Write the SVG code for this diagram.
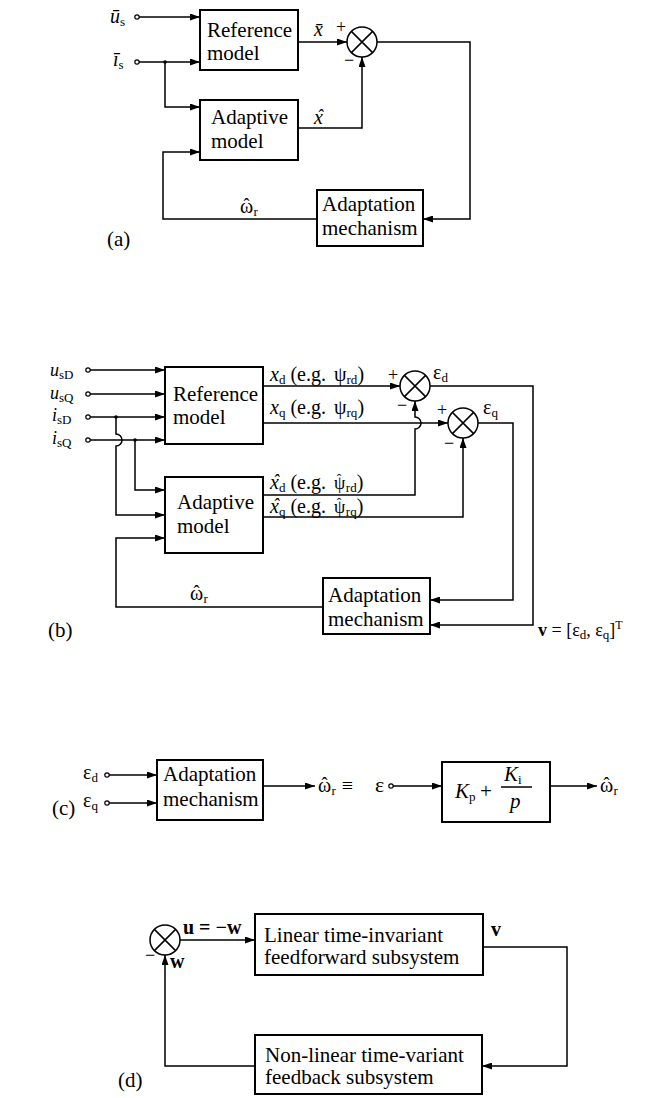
<svg xmlns="http://www.w3.org/2000/svg" width="654" height="1098" viewBox="0 0 654 1098">
<style>
.box{fill:none;stroke:#000;stroke-width:2}
.ln{fill:none;stroke:#000;stroke-width:1.5}
.arr{marker-end:url(#ah)}
.dot{fill:#fff;stroke:#000;stroke-width:1.2}
.jn{fill:#000}
text{font-family:"Liberation Serif","Times New Roman",serif;fill:#000}
.t{font-size:21px}
.l{font-size:18px}
.m{font-size:20px}
.s{font-size:13px}
.hat{font-size:18px}
.hs{font-size:14px}
.g{font-size:18px}
.i{font-style:italic}
.n{font-style:normal}
.b{font-weight:bold}
</style>
<defs>
<marker id="ah" markerUnits="userSpaceOnUse" markerWidth="10" markerHeight="7" refX="10" refY="3.5" orient="auto">
<path d="M0,0 L10,3.5 L0,7 z" fill="#000"/>
</marker>
</defs>
<rect width="654" height="1098" fill="#fff"/>

<!-- ===== (a) ===== -->
<g id="a-ref"><rect class="box" x="200" y="10" width="98" height="60"/><text class="t" x="207" y="37">Reference</text><text class="t" x="207" y="60">model</text></g>
<g id="a-adp"><rect class="box" x="200" y="100" width="98" height="60"/><text class="t" x="211" y="124">Adaptive</text><text class="t" x="211" y="148">model</text></g>
<g id="a-mech"><rect class="box" x="317" y="190" width="106" height="56"/><text class="t" x="322" y="211">Adaptation</text><text class="t" x="322" y="235">mechanism</text></g>
<g id="a-sum"><circle class="ln" cx="362" cy="42" r="15"/><path class="ln" d="M351.4,31.4 L372.6,52.6 M372.6,31.4 L351.4,52.6"/></g>
<g id="a-conn">
<circle class="dot" cx="137" cy="17" r="2.2"/><line class="ln arr" x1="139" y1="17" x2="200" y2="17"/>
<circle class="dot" cx="137" cy="62" r="2.2"/><line class="ln arr" x1="139" y1="62" x2="200" y2="62"/>
<circle class="jn" cx="165" cy="62" r="1.8"/><path class="ln arr" d="M165,62 V107 H200"/>
<line class="ln arr" x1="298" y1="42" x2="347" y2="42"/>
<path class="ln arr" d="M298,128 H362 V57"/>
<path class="ln arr" d="M377,42 H470 V219 H423"/>
<path class="ln arr" d="M317,219 H163 V152 H200"/>
</g>
<g id="a-labels">
<text class="m" x="110" y="23"><tspan class="i">ū</tspan><tspan class="s" dy="3">s</tspan></text>
<text class="m" x="113" y="66"><tspan class="i">ī</tspan><tspan class="s" dy="3">s</tspan></text>
<text class="m i" x="314" y="36">x̄</text>
<text class="l" x="336" y="33">+</text>
<text class="l" x="344" y="66">−</text>
<text class="m i" x="314" y="124">x<tspan class="hat" dx="-6" dy="-2">ˆ</tspan></text>
<text class="m" x="240" y="213">ω<tspan class="hat" dx="-9.7" dy="-2">ˆ</tspan><tspan class="s" dx="4" dy="5">r</tspan></text>
<text class="t" x="107" y="246">(a)</text>
</g>

<!-- ===== (b) ===== -->
<g id="b-ref"><rect class="box" x="165" y="367" width="98" height="77"/><text class="t" x="173" y="401">Reference</text><text class="t" x="173" y="424">model</text></g>
<g id="b-adp"><rect class="box" x="165" y="477" width="98" height="76"/><text class="t" x="177" y="509">Adaptive</text><text class="t" x="177" y="533">model</text></g>
<g id="b-mech"><rect class="box" x="323" y="578" width="107" height="56"/><text class="t" x="328" y="602">Adaptation</text><text class="t" x="328" y="626">mechanism</text></g>
<g id="b-sum1"><circle class="ln" cx="415" cy="386" r="15"/><path class="ln" d="M404.4,375.4 L425.6,396.6 M425.6,375.4 L404.4,396.6"/></g>
<g id="b-sum2"><circle class="ln" cx="463" cy="423" r="15"/><path class="ln" d="M452.4,412.4 L473.6,433.6 M473.6,412.4 L452.4,433.6"/></g>
<g id="b-conn">
<circle class="dot" cx="88" cy="370" r="2.2"/><line class="ln arr" x1="90" y1="370" x2="165" y2="370"/>
<circle class="dot" cx="88" cy="394" r="2.2"/><line class="ln arr" x1="90" y1="394" x2="165" y2="394"/>
<circle class="dot" cx="88" cy="417" r="2.2"/><line class="ln arr" x1="90" y1="417" x2="165" y2="417"/>
<circle class="dot" cx="88" cy="440" r="2.2"/><line class="ln arr" x1="90" y1="440" x2="165" y2="440"/>
<circle class="jn" cx="116" cy="417" r="1.8"/><path class="ln arr" d="M116,417 V434 A6,6 0 0 1 116,446 V515 H165"/>
<circle class="jn" cx="135" cy="440" r="1.8"/><path class="ln arr" d="M135,440 V490 H165"/>
<path class="ln arr" d="M323,607 H116 V538 H165"/>
<line class="ln arr" x1="263" y1="386" x2="400" y2="386"/>
<line class="ln arr" x1="263" y1="423" x2="448" y2="423"/>
<path class="ln arr" d="M263,495 H415 V429 A6,6 0 0 0 415,417 V401"/>
<path class="ln arr" d="M263,517 H463 V438"/>
<path class="ln arr" d="M430,386 H533 V625 H430"/>
<path class="ln arr" d="M478,423 H513 V600 H430"/>
</g>
<g id="b-labels">
<text class="l" x="50" y="376"><tspan class="i">u</tspan><tspan class="s" dy="3">sD</tspan></text>
<text class="l" x="50" y="399"><tspan class="i">u</tspan><tspan class="s" dy="3">sQ</tspan></text>
<text class="l" x="52" y="421"><tspan class="i">i</tspan><tspan class="s" dy="3">sD</tspan></text>
<text class="l" x="52" y="444"><tspan class="i">i</tspan><tspan class="s" dy="3">sQ</tspan></text>
<text class="m" x="270" y="381"><tspan class="i">x</tspan><tspan class="s" dy="3">d</tspan><tspan dy="-3"> (e.g. </tspan><tspan x="334">ψ</tspan><tspan class="s" dy="3">rd</tspan><tspan dy="-3">)</tspan></text>
<text class="m" x="270" y="414"><tspan class="i">x</tspan><tspan class="s" dy="3">q</tspan><tspan dy="-3"> (e.g. </tspan><tspan x="334">ψ</tspan><tspan class="s" dy="3">rq</tspan><tspan dy="-3">)</tspan></text>
<text class="m" x="270" y="489"><tspan class="i">x</tspan><tspan class="hat i" dx="-6" dy="-2">ˆ</tspan><tspan class="s" dy="5">d</tspan><tspan dy="-3"> (e.g. </tspan><tspan class="g" x="334">ψ</tspan><tspan class="hs" dx="-8.5" dy="-5">ˆ</tspan><tspan class="s" dx="4.4" dy="8">rd</tspan><tspan dy="-3">)</tspan></text>
<text class="m" x="270" y="513"><tspan class="i">x</tspan><tspan class="hat i" dx="-6" dy="-2">ˆ</tspan><tspan class="s" dy="5">q</tspan><tspan dy="-3"> (e.g. </tspan><tspan class="g" x="334">ψ</tspan><tspan class="hs" dx="-8.5" dy="-5">ˆ</tspan><tspan class="s" dx="4.4" dy="8">rq</tspan><tspan dy="-3">)</tspan></text>
<text class="l" x="388" y="381">+</text>
<text class="m" x="433" y="379">ε<tspan class="s" dy="3">d</tspan></text>
<text class="l" x="397" y="411">−</text>
<text class="l" x="437" y="416">+</text>
<text class="m" x="483" y="414">ε<tspan class="s" dy="3">q</tspan></text>
<text class="l" x="444" y="449">−</text>
<text class="m" x="190" y="600">ω<tspan class="hat" dx="-9.7" dy="-2">ˆ</tspan><tspan class="s" dx="4" dy="5">r</tspan></text>
<text class="l" x="538" y="636"><tspan class="b">v</tspan> = [ε<tspan class="s" dy="3">d</tspan><tspan dy="-3">, ε</tspan><tspan class="s" dy="3">q</tspan><tspan dy="-3">]</tspan><tspan font-size="12" dy="-7">T</tspan></text>
<text class="t" x="48" y="637">(b)</text>
</g>

<!-- ===== (c) ===== -->
<g id="c-mech"><rect class="box" x="157" y="760" width="106" height="60"/><text class="t" x="163" y="781">Adaptation</text><text class="t" x="163" y="806">mechanism</text></g>
<g id="c-pi"><rect class="box" x="442" y="762" width="108" height="60"/>
<text class="t" x="455" y="798"><tspan class="i">K</tspan><tspan class="s" dy="3">p</tspan></text>
<text class="t" x="480" y="798">+</text>
<text class="t" x="504" y="781"><tspan class="i">K</tspan><tspan class="s" dy="3">i</tspan></text>
<line class="ln" x1="501" y1="787" x2="532" y2="787"/>
<text class="t i" x="510" y="808">p</text></g>
<g id="c-conn">
<circle class="dot" cx="107" cy="775" r="2.2"/><line class="ln arr" x1="109" y1="775" x2="157" y2="775"/>
<circle class="dot" cx="107" cy="803" r="2.2"/><line class="ln arr" x1="109" y1="803" x2="157" y2="803"/>
<line class="ln arr" x1="263" y1="786" x2="315" y2="786"/>
<circle class="dot" cx="391" cy="786" r="2.2"/><line class="ln arr" x1="393" y1="786" x2="442" y2="786"/>
<line class="ln arr" x1="550" y1="786" x2="597" y2="786"/>
</g>
<g id="c-labels">
<text class="m" x="83" y="779">ε<tspan class="s" dy="3">d</tspan></text>
<text class="m" x="83" y="807">ε<tspan class="s" dy="3">q</tspan></text>
<text class="t" x="52" y="815">(c)</text>
<text class="m" x="318" y="792">ω<tspan class="hat" dx="-9.7" dy="-2">ˆ</tspan><tspan class="s" dx="4" dy="5">r</tspan><tspan dx="6" dy="-3">≡</tspan><tspan font-size="22" x="375">ε</tspan></text>
<text class="m" x="600" y="792">ω<tspan class="hat" dx="-9.7" dy="-2">ˆ</tspan><tspan class="s" dx="4" dy="5">r</tspan></text>
</g>

<!-- ===== (d) ===== -->
<g id="d-sum"><circle class="ln" cx="165" cy="940" r="15"/><path class="ln" d="M154.4,929.4 L175.6,950.6 M175.6,929.4 L154.4,950.6"/></g>
<g id="d-ff"><rect class="box" x="255" y="914" width="228" height="61"/><text class="t" x="264" y="942">Linear time-invariant</text><text class="t" x="264" y="964">feedforward subsystem</text></g>
<g id="d-fb"><rect class="box" x="255" y="1035" width="227" height="59"/><text class="t" x="265" y="1062">Non-linear time-variant</text><text class="t" x="265" y="1084">feedback subsystem</text></g>
<g id="d-conn">
<line class="ln arr" x1="180" y1="940" x2="255" y2="940"/>
<path class="ln arr" d="M483,947 H567 V1066 H482"/>
<path class="ln arr" d="M255,1066 H165 V955"/>
</g>
<g id="d-labels">
<text class="m b" x="183" y="934">u = −w</text>
<text class="m b" x="491" y="936">v</text>
<text class="l" x="145" y="961">−</text>
<text class="m b" x="170" y="968">w</text>
<text class="t" x="118" y="1087">(d)</text>
</g>
</svg>
